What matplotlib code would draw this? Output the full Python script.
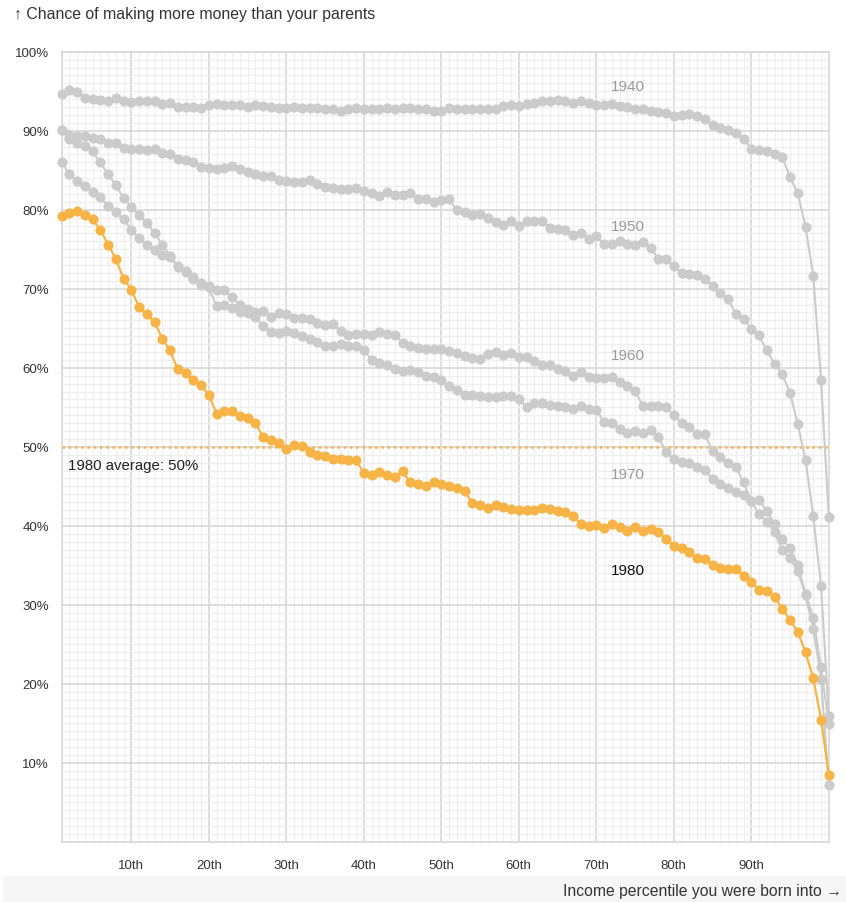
import matplotlib
matplotlib.use("Agg")
import matplotlib.pyplot as plt
from matplotlib.ticker import MultipleLocator
import numpy as np

plt.rcParams['font.family'] = ['Liberation Sans', 'DejaVu Sans']

percentiles = list(range(1, 101))

cohort_1940 = [94.6, 95.1, 94.9, 94.1, 94.0, 93.9, 93.8, 94.1, 93.7, 93.6,
               93.7, 93.7, 93.7, 93.4, 93.5, 93.0, 93.0, 93.0, 92.9, 93.2,
               93.4, 93.3, 93.3, 93.2, 93.0, 93.2, 93.1, 93.0, 92.9, 92.9,
               93.0, 92.9, 92.9, 92.9, 92.8, 92.7, 92.5, 92.7, 92.9, 92.7,
               92.7, 92.8, 92.9, 92.8, 92.9, 92.9, 92.7, 92.8, 92.5, 92.5,
               92.9, 92.8, 92.8, 92.7, 92.7, 92.8, 92.7, 93.1, 93.2, 93.1,
               93.4, 93.5, 93.7, 93.8, 93.9, 93.8, 93.5, 93.8, 93.5, 93.2,
               93.2, 93.4, 93.1, 93.0, 92.8, 92.8, 92.5, 92.4, 92.3, 91.9,
               92.0, 92.1, 91.9, 91.5, 90.7, 90.3, 90.1, 89.7, 89.0, 87.7,
               87.5, 87.4, 87.1, 86.7, 84.1, 82.1, 77.8, 71.6, 58.4, 41.1]

cohort_1950 = [90.1, 89.5, 89.3, 89.3, 89.1, 89.0, 88.5, 88.4, 87.8, 87.7,
               87.7, 87.5, 87.7, 87.2, 87.0, 86.4, 86.3, 86.1, 85.4, 85.3,
               85.2, 85.3, 85.5, 85.1, 84.8, 84.5, 84.3, 84.3, 83.8, 83.6,
               83.5, 83.5, 83.8, 83.3, 82.9, 82.8, 82.6, 82.6, 82.7, 82.4,
               82.1, 81.7, 82.2, 81.9, 81.9, 82.1, 81.3, 81.4, 81.0, 81.2,
               81.3, 80.0, 79.7, 79.3, 79.5, 78.9, 78.4, 78.1, 78.6, 77.9,
               78.6, 78.6, 78.6, 77.7, 77.6, 77.4, 76.8, 77.1, 76.3, 76.7,
               75.7, 75.7, 76.1, 75.7, 75.6, 75.9, 75.2, 73.8, 73.8, 72.9,
               72.0, 71.9, 71.8, 71.3, 70.3, 69.5, 68.7, 66.8, 66.2, 64.9,
               64.1, 62.2, 60.5, 59.2, 56.8, 52.9, 48.3, 41.2, 32.4, 15.9]

cohort_1960 = [90.1, 88.9, 88.5, 88.1, 87.4, 86.0, 84.5, 83.1, 81.5, 80.4,
               79.3, 78.3, 77.1, 75.6, 74.2, 72.9, 72.3, 71.5, 70.7, 70.4,
               69.8, 69.8, 68.9, 68.0, 67.4, 67.1, 67.2, 66.4, 66.9, 66.8,
               66.3, 66.3, 66.2, 65.7, 65.4, 65.6, 64.6, 64.1, 64.3, 64.3,
               64.1, 64.5, 64.3, 64.2, 63.2, 62.7, 62.5, 62.4, 62.4, 62.4,
               62.1, 61.9, 61.5, 61.3, 61.1, 61.7, 62.0, 61.6, 61.9, 61.4,
               61.4, 60.8, 60.4, 60.3, 59.8, 59.6, 59.0, 59.5, 58.9, 58.7,
               58.7, 58.9, 58.2, 57.7, 57.1, 55.2, 55.2, 55.2, 55.1, 54.0,
               53.0, 52.5, 51.6, 51.6, 49.5, 48.7, 48.0, 47.5, 45.5, 43.2,
               43.3, 41.9, 40.3, 38.3, 37.2, 35.1, 31.4, 28.4, 22.1, 14.9]

cohort_1970 = [86.1, 84.5, 83.6, 83.0, 82.3, 81.6, 80.5, 79.7, 78.8, 77.5,
               76.4, 75.6, 74.9, 74.3, 74.0, 72.7, 72.1, 71.3, 70.5, 70.2,
               67.8, 68.0, 67.6, 67.0, 66.9, 66.4, 65.3, 64.5, 64.4, 64.6,
               64.4, 64.0, 63.6, 63.3, 62.8, 62.7, 63.0, 62.8, 62.7, 62.3,
               61.0, 60.6, 60.4, 59.8, 59.6, 59.7, 59.5, 59.0, 58.9, 58.5,
               57.7, 57.2, 56.6, 56.5, 56.4, 56.3, 56.3, 56.4, 56.4, 56.1,
               55.0, 55.5, 55.5, 55.3, 55.2, 55.0, 54.8, 55.2, 54.8, 54.7,
               53.1, 53.0, 52.3, 51.7, 52.0, 51.8, 52.1, 51.3, 49.3, 48.4,
               48.1, 47.9, 47.4, 47.1, 45.9, 45.3, 44.8, 44.3, 43.9, 43.1,
               41.5, 40.5, 39.2, 36.9, 35.9, 34.3, 31.2, 27.0, 20.6, 7.2]

cohort_1980 = [79.2, 79.6, 79.8, 79.4, 78.8, 77.5, 75.6, 73.8, 71.3, 69.9,
               67.7, 66.8, 65.8, 63.7, 62.2, 59.8, 59.4, 58.4, 57.8, 56.6,
               54.2, 54.5, 54.5, 53.9, 53.6, 53.0, 51.3, 50.9, 50.5, 49.7,
               50.2, 50.1, 49.3, 49.0, 48.8, 48.5, 48.5, 48.3, 48.3, 46.7,
               46.5, 46.8, 46.5, 46.2, 46.9, 45.5, 45.3, 45.0, 45.5, 45.3,
               45.1, 44.8, 44.4, 42.9, 42.7, 42.3, 42.7, 42.4, 42.1, 42.0,
               42.0, 42.0, 42.2, 42.1, 41.9, 41.8, 41.2, 40.3, 40.0, 40.1,
               39.7, 40.3, 39.8, 39.4, 39.8, 39.4, 39.6, 39.2, 38.4, 37.5,
               37.2, 36.7, 35.9, 35.8, 35.1, 34.7, 34.5, 34.6, 33.6, 32.9,
               31.9, 31.7, 31.0, 29.5, 28.1, 26.6, 24.0, 20.7, 15.5, 8.5]

years = ['1940', '1950', '1960', '1970', '1980']
label_y = [95.6, 77.9, 61.6, 46.6, 34.4]
label_x = 74.1
average_1980 = 50
x_ticks = [10, 20, 30, 40, 50, 60, 70, 80, 90]
x_tick_labels = ['10th', '20th', '30th', '40th', '50th', '60th', '70th', '80th', '90th']
y_ticks = [10, 20, 30, 40, 50, 60, 70, 80, 90, 100]
y_tick_labels = ['10%', '20%', '30%', '40%', '50%', '60%', '70%', '80%', '90%', '100%']

GRAY = '#cbcbcb'
ORANGE = '#f6b447'
TEXT = '#333333'

W, H = 846, 903
fig = plt.figure(figsize=(W / 100, H / 100), dpi=100)
fig.patch.set_facecolor('white')

# bottom band
band = plt.Rectangle((3 / W, 0), 1 - 3 / W, 26 / H, transform=fig.transFigure,
                     facecolor='#f6f6f6', edgecolor='none', zorder=0)
fig.patches.append(band)

ax_left, ax_right = 61.5, 828.8
ax_top, ax_bottom = 52.7, 843.0
ax = fig.add_axes([ax_left / W, (H - ax_bottom) / H,
                   (ax_right - ax_left) / W, (ax_bottom - ax_top) / H])
ax.set_xlim(1, 100)
ax.set_ylim(0, 100)

ax.xaxis.set_major_locator(MultipleLocator(10))
ax.yaxis.set_major_locator(MultipleLocator(10))
ax.xaxis.set_minor_locator(MultipleLocator(1))
ax.yaxis.set_minor_locator(MultipleLocator(1))
ax.grid(which='minor', color='#efefef', linewidth=0.9, zorder=0)
ax.grid(which='major', color='#d8d8d8', linewidth=1.2, zorder=0)
ax.set_axisbelow(True)
for s in ax.spines.values():
    s.set_color('#d8d8d8')
    s.set_linewidth(1.2)

ax.set_xticks(x_ticks)
ax.set_xticklabels(x_tick_labels)
ax.set_yticks(y_ticks)
ax.set_yticklabels(y_tick_labels)
ax.tick_params(which='both', length=0)
ax.tick_params(axis='x', pad=12, labelsize=9.5, labelcolor=TEXT)
ax.tick_params(axis='y', pad=9, labelsize=9.5, labelcolor=TEXT)

gray_series = [cohort_1940, cohort_1950, cohort_1960, cohort_1970]
for vals in gray_series:
    ax.plot(percentiles, vals, color=GRAY, linewidth=1.5, marker='o',
            markersize=7.3, markeredgewidth=0, markerfacecolor=GRAY,
            zorder=3, clip_on=False)

ax.axhline(average_1980, color=ORANGE, linestyle=(0, (1, 1.5)), linewidth=1.8, zorder=2)
ax.plot(percentiles, cohort_1980, color=ORANGE, linewidth=1.6, marker='o',
        markersize=7.3, markeredgewidth=0, markerfacecolor=ORANGE, zorder=4,
        clip_on=False)

ax.text(1.9, 47.7, '1980 average: 50%', fontsize=10.8, color='#222222',
        ha='left', va='center', zorder=5)

for yr, ly in zip(years, label_y):
    col = '#111111' if yr == '1980' else '#9a9a9a'
    ax.text(label_x, ly, yr, fontsize=11, color=col, ha='center', va='center', zorder=5)

fig.text(14 / W, 1 - 15 / H, '\u2191 Chance of making more money than your parents',
         fontsize=11.4, color=TEXT, ha='left', va='center')
fig.text(842 / W, 1 - 892 / H, 'Income percentile you were born into \u2192',
         fontsize=11.3, color=TEXT, ha='right', va='center')

fig.savefig('out.png', dpi=100)
